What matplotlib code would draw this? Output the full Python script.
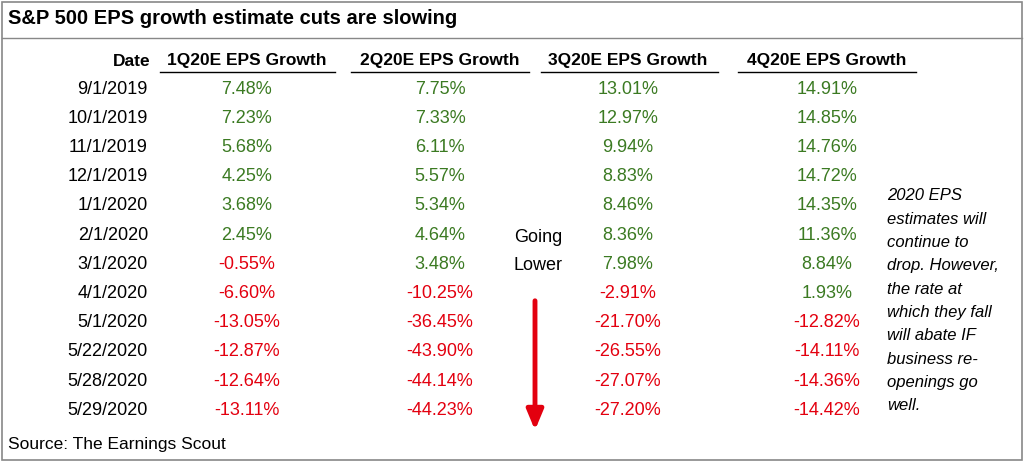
import matplotlib.pyplot as plt
from matplotlib.patches import Rectangle

dates = ["9/1/2019", "10/1/2019", "11/1/2019", "12/1/2019", "1/1/2020", "2/1/2020",
         "3/1/2020", "4/1/2020", "5/1/2020", "5/22/2020", "5/28/2020", "5/29/2020"]
headers = ["1Q20E EPS Growth", "2Q20E EPS Growth", "3Q20E EPS Growth", "4Q20E EPS Growth"]
q1 = [7.48, 7.23, 5.68, 4.25, 3.68, 2.45, -0.55, -6.60, -13.05, -12.87, -12.64, -13.11]
q2 = [7.75, 7.33, 6.11, 5.57, 5.34, 4.64, 3.48, -10.25, -36.45, -43.90, -44.14, -44.23]
q3 = [13.01, 12.97, 9.94, 8.83, 8.46, 8.36, 7.98, -2.91, -21.70, -26.55, -27.07, -27.20]
q4 = [14.91, 14.85, 14.76, 14.72, 14.35, 11.36, 8.84, 1.93, -12.82, -14.11, -14.36, -14.42]
note = ["2020 EPS", "estimates will", "continue to", "drop. However,", "the rate at",
        "which they fall", "will abate IF", "business re-", "openings go", "well."]

GREEN = "#3b7a22"
RED = "#e3000f"
plt.rcParams['font.family'] = ['Liberation Sans', 'DejaVu Sans']

fig = plt.figure(figsize=(10.24, 4.62), dpi=100)
ax = fig.add_axes([0, 0, 1, 1])
ax.set_xlim(0, 1024)
ax.set_ylim(462, 0)
ax.axis("off")

ax.add_patch(Rectangle((2, 2), 1020, 458, fill=False, ec="#888888", lw=1.2))
ax.plot([2, 1022], [38, 38], color="#888888", lw=1)
ax.text(8, 19, "S&P 500 EPS growth estimate cuts are slowing", fontsize=14.5,
        fontweight="bold", va="center")

col_x = [247, 440, 628, 827]
ax.text(150, 61, "Date", fontsize=12.5, fontweight="bold", ha="right", va="center")
for x, h in zip(col_x, headers):
    t = ax.text(x, 61, h, fontsize=12.5, fontweight="bold", ha="center", va="center")
ax.plot([160, 335], [72, 72], color="black", lw=1)
ax.plot([351, 529], [72, 72], color="black", lw=1)
ax.plot([541, 718], [72, 72], color="black", lw=1)
ax.plot([738, 916], [72, 72], color="black", lw=1)

y0, dy = 89, 29.2
for i, d in enumerate(dates):
    y = y0 + i * dy
    ax.text(148, y, d, fontsize=13, ha="right", va="center")
    for x, series in zip(col_x, [q1, q2, q3, q4]):
        v = series[i]
        ax.text(x, y, f"{v:.2f}%", fontsize=13, ha="center", va="center",
                color=GREEN if v >= 0 else RED)

ax.text(538, 237, "Going", fontsize=13, ha="center", va="center")
ax.text(538, 265, "Lower", fontsize=13, ha="center", va="center")
ax.annotate("", xy=(535, 433), xytext=(535, 298),
            arrowprops=dict(arrowstyle="-|>,head_width=0.5,head_length=1.2",
                            color=RED, lw=3.5))

for i, line in enumerate(note):
    ax.text(887, 196 + i * 23.3, line, fontsize=12, style="italic", va="center")

ax.text(8, 444, "Source: The Earnings Scout", fontsize=12.5, va="center")

fig.savefig("out.png", dpi=100)
